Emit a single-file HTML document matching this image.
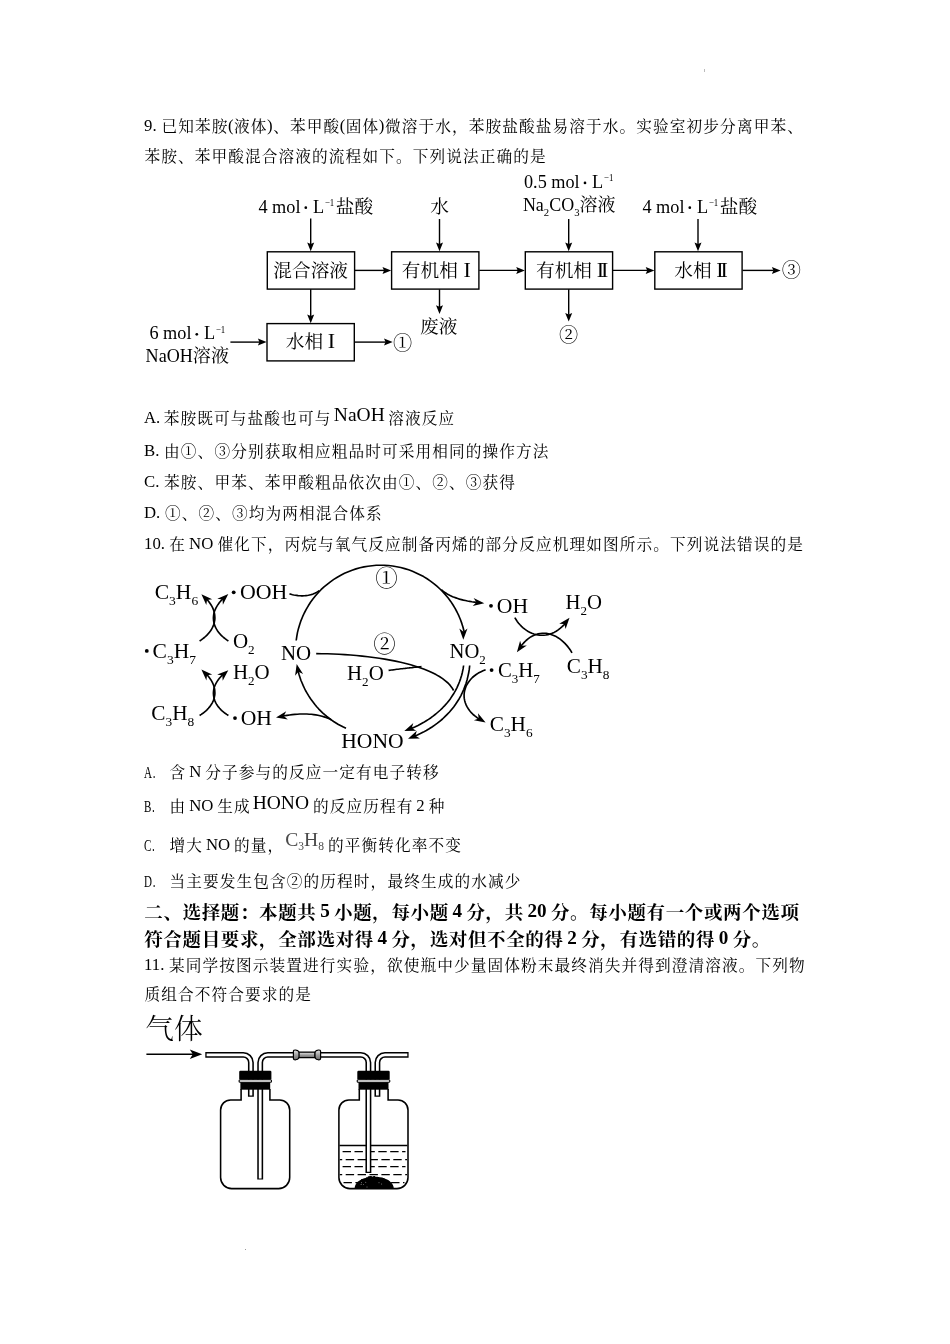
<!DOCTYPE html>
<html lang="zh-CN">
<head>
<meta charset="utf-8">
<title>Chemistry exam page</title>
<style>
html,body{margin:0;padding:0;background:#fff;}
body{will-change:transform;width:950px;height:1344px;position:relative;overflow:hidden;color:#000;
  font-family:"Liberation Serif","Noto Serif CJK SC",serif;font-size:16.76px;}
.ln{position:absolute;left:144px;white-space:nowrap;line-height:24px;height:24px;}
.b{font-weight:bold;font-size:19.15px;line-height:26px;height:26px;word-spacing:-.8px;}
.c{display:inline-block;font-size:15.66px;letter-spacing:1.1px;padding-left:.55px;margin-right:-.55px;transform:translateY(.5px);}
.b .c{font-size:18.55px;letter-spacing:.6px;padding-left:.3px;margin-right:-.3px;transform:translateY(1.6px);}
.hw{display:inline-block;width:25px;}
.hw i{display:inline-block;font-style:normal;transform:translateY(.5px) scaleX(.66);transform-origin:0 50%;letter-spacing:1px;}
.m{font-size:19.5px;position:relative;}
svg{position:absolute;overflow:visible;}
svg text{font-family:"Liberation Serif","Noto Serif CJK SC",serif;white-space:pre;}
#cycle polygon{fill:#000;stroke:none}
.dot{position:absolute;width:1px;height:1px;background:#bbb;}
</style>
</head>
<body>
<div class="dot" style="left:704px;top:69px;height:3px"></div>
<div class="dot" style="left:245px;top:1249px;background:#999"></div>

<div class="ln" id="l1" style="top:114px;letter-spacing:.035px">9. <span class="c">已知苯胺</span>(<span class="c">液体</span>)<span class="c">、苯甲酸</span>(<span class="c">固体</span>)<span class="c">微溶于水，苯胺盐酸盐易溶于水。实验室初步分离甲苯、</span></div>
<div class="ln" id="l2" style="top:144px"><span class="c">苯胺、苯甲酸混合溶液的流程如下。下列说法正确的是</span></div>

<svg id="flow" style="left:0;top:0" width="950" height="400" viewBox="0 0 950 400">
<g fill="none" stroke="#000" stroke-width="1.4">
<rect x="267.3" y="251.8" width="87.3" height="37.3"/>
<rect x="391.6" y="251.8" width="87.3" height="37.3"/>
<rect x="525.3" y="251.8" width="87.3" height="37.3"/>
<rect x="654.8" y="251.8" width="87.3" height="37.3"/>
<rect x="267" y="323.6" width="87.3" height="37.3"/>
</g>
<g fill="#000" stroke="#000" stroke-width="1.4">
<line x1="310.7" y1="218.4" x2="310.7" y2="244.5"/><polygon stroke="none" points="310.7,251.3 307.2,242.6 310.7,244.1 314.2,242.6"/>
<line x1="439.5" y1="219" x2="439.5" y2="244.5"/><polygon stroke="none" points="439.5,251.3 436,242.6 439.5,244.1 443,242.6"/>
<line x1="568.7" y1="219" x2="568.7" y2="244.5"/><polygon stroke="none" points="568.7,251.3 565.2,242.6 568.7,244.1 572.2,242.6"/>
<line x1="698" y1="219" x2="698" y2="244.5"/><polygon stroke="none" points="698,251.3 694.5,242.6 698,244.1 701.5,242.6"/>
<line x1="355" y1="270.4" x2="384.4" y2="270.4"/><polygon stroke="none" points="391.2,270.4 382.5,273.9 384,270.4 382.5,266.9"/>
<line x1="479.3" y1="270.4" x2="518.1" y2="270.4"/><polygon stroke="none" points="524.9,270.4 516.2,273.9 517.7,270.4 516.2,266.9"/>
<line x1="613" y1="270.4" x2="647.6" y2="270.4"/><polygon stroke="none" points="654.4,270.4 645.7,273.9 647.2,270.4 645.7,266.9"/>
<line x1="742.5" y1="270.4" x2="773.8" y2="270.4"/><polygon stroke="none" points="780.6,270.4 771.9,273.9 773.4,270.4 771.9,266.9"/>
<line x1="310.7" y1="289.3" x2="310.7" y2="316.4"/><polygon stroke="none" points="310.7,323.2 307.2,314.5 310.7,316 314.2,314.5"/>
<line x1="439.5" y1="289.3" x2="439.5" y2="307.2"/><polygon stroke="none" points="439.5,314 436,305.3 439.5,306.8 443,305.3"/>
<line x1="568.7" y1="289.3" x2="568.7" y2="314.8"/><polygon stroke="none" points="568.7,321.6 565.2,312.9 568.7,314.4 572.2,312.9"/>
<line x1="230.4" y1="342.1" x2="259.8" y2="342.1"/><polygon stroke="none" points="266.6,342.1 257.9,345.6 259.4,342.1 257.9,338.6"/>
<line x1="354.7" y1="342.1" x2="385.9" y2="342.1"/><polygon stroke="none" points="392.7,342.1 384,345.6 385.5,342.1 384,338.6"/>
</g>
<g font-size="18.5" fill="#000" stroke="none">
<text x="258.4" y="212.6" font-size="18.3" textLength="42.1" lengthAdjust="spacingAndGlyphs">4 mol</text><circle cx="305.8" cy="207.7" r="1.35"/><text x="312.9" y="212.6" font-size="18.3">L</text><text x="324.9" y="206" font-size="9.5" textLength="9.4" lengthAdjust="spacingAndGlyphs">−1</text><text x="335.8" y="212.7" font-size="18.7">盐酸</text>
<text x="642.4" y="212.6" font-size="18.3" textLength="42.1" lengthAdjust="spacingAndGlyphs">4 mol</text><circle cx="689.8" cy="207.7" r="1.35"/><text x="696.9" y="212.6" font-size="18.3">L</text><text x="708.9" y="206" font-size="9.5" textLength="9.4" lengthAdjust="spacingAndGlyphs">−1</text><text x="719.8" y="212.7" font-size="18.7">盐酸</text>
<text x="524" y="187.8" font-size="18.3" textLength="55.7" lengthAdjust="spacingAndGlyphs">0.5 mol</text><circle cx="585" cy="182.9" r="1.35"/><text x="592.1" y="187.8" font-size="18.3">L</text><text x="604.1" y="181.2" font-size="9.5" textLength="9.4" lengthAdjust="spacingAndGlyphs">−1</text>
<text x="149.4" y="339.2" font-size="18.3" textLength="42.1" lengthAdjust="spacingAndGlyphs">6 mol</text><circle cx="196.8" cy="334.3" r="1.35"/><text x="203.9" y="339.2" font-size="18.3">L</text><text x="215.9" y="332.6" font-size="9.5" textLength="9.4" lengthAdjust="spacingAndGlyphs">−1</text>
<text x="439.5" y="213" text-anchor="middle" font-size="18.7">水</text>
<text x="522.9" y="211" textLength="92.6" lengthAdjust="spacingAndGlyphs">Na<tspan font-size="11" dy="4.5">2</tspan><tspan dy="-4.5">CO</tspan><tspan font-size="11" dy="4.5">3</tspan><tspan dy="-4.5">溶液</tspan></text>
<text x="145.6" y="361.5" textLength="83.4" lengthAdjust="spacingAndGlyphs">NaOH溶液</text>
<g font-size="18.7" text-anchor="middle">
<text x="438.8" y="332.6">废液</text>
<text x="310.7" y="276.9">混合溶液</text>
<text x="429.8" y="276.9">有机相</text>
<text x="564" y="276.9">有机相</text>
<text x="693" y="276.9">水相</text>
<text x="304.4" y="348.4">水相</text>
<text x="402.6" y="349.9" font-size="19.2">①</text>
<text x="568.7" y="342.3" font-size="19.2">②</text>
<text x="791.3" y="277.1" font-size="19.2">③</text>
</g>
<g font-size="22" text-anchor="middle">
<text x="467.2" y="276.8">I</text>
<text x="331.5" y="348.3">I</text>
<text x="601" y="276.8" letter-spacing="-3">II</text>
<text x="720.5" y="276.8" letter-spacing="-3">II</text>
</g>
</g></svg>

<div class="ln" id="l3" style="top:405px;word-spacing:-1.2px">A. <span class="c">苯胺既可与盐酸也可与</span> <span class="m" style="top:-2px">NaOH</span> <span class="c">溶液反应</span></div>
<div class="ln" id="l4" style="top:439px">B. <span class="c">由①、③分别获取相应粗品时可采用相同的操作方法</span></div>
<div class="ln" id="l5" style="top:470px">C. <span class="c">苯胺、甲苯、苯甲酸粗品依次由①、②、③获得</span></div>
<div class="ln" id="l6" style="top:501px">D. <span class="c">①、②、③均为两相混合体系</span></div>
<div class="ln" id="l7" style="top:532px;word-spacing:-.5px">10. <span class="c">在</span> NO <span class="c">催化下，丙烷与氧气反应制备丙烯的部分反应机理如图所示。下列说法错误的是</span></div>

<svg id="cycle" style="left:0;top:0" width="950" height="780" viewBox="0 0 950 780">
<g fill="none" stroke="#000" stroke-width="1.65" stroke-linecap="butt" stroke-linejoin="round">
<path d="M296.2 640.5 L296.8 636.4 L297.5 632.4 L298.5 628.4 L299.7 624.4 L301 620.6 L302.6 616.7 L304.3 613 L306.2 609.4 L308.3 605.8 L310.5 602.3 L312.9 599 L315.5 595.8 L318.2 592.7 L321 589.7 L324 586.9 L327.2 584.3 L330.4 581.8 L333.8 579.4 L337.3 577.2 L340.8 575.2 L344.5 573.3 L348.3 571.7 L352.1 570.2 L356 568.9 L360 567.8 L364 566.9 L368 566.2 L372.1 565.7 L376.2 565.3 L380.3 565.2 L384.4 565.3 L388.5 565.5 L392.6 566 L396.7 566.7 L400.7 567.5 L404.7 568.6 L408.6 569.8 L412.5 571.3 L416.2 572.9 L419.9 574.7 L423.6 576.6 L427.1 578.8 L430.5 581.1 L433.8 583.6 L436.9 586.2 L440 589 L442.9 591.9 L445.6 594.9 L448.2 598.1 L450.7 601.4 L452.9 604.8 L455.1 608.4 L457 612 L458.8 615.7 L460.4 619.5 L461.8 623.4 L463 627.3 L464 631.3 L464.3 632.7"/><polygon points="463.3,639.8 459.3,628.6 463.4,631.8 467.5,628.6"/>
<path d="M346 728.3 L343.4 727.1 L340.9 725.8 L338.4 724.5 L336 723 L333.6 721.5 L331.3 719.9 L329.1 718.2 L326.8 716.5 L324.7 714.7 L322.6 712.8 L320.6 710.8 L318.6 708.8 L316.7 706.7 L314.9 704.5 L313.2 702.3 L311.5 700.1 L309.9 697.7 L308.4 695.4 L306.9 692.9 L305.5 690.5 L304.3 688 L303.1 685.4 L302 682.8 L300.9 680.2 L300 677.5 L299.1 674.8 L298.4 672.1 L298.1 671.1"/><polygon points="296.7,663.9 303.1,673.9 298.4,671.7 295.1,675.7"/>
<path d="M289.5 593.9 L291 594.3 L292.5 594.7 L293.9 595 L295.3 595.2 L296.7 595.4 L298.1 595.6 L299.5 595.7 L300.8 595.8 L302.1 595.8 L303.4 595.8 L304.7 595.7 L306 595.6 L307.2 595.5 L308.4 595.3 L309.6 595 L310.8 594.7 L311.9 594.4 L313.1 594 L314.2 593.5 L315.3 593 L316.3 592.5 L317.4 591.9 L318.4 591.3 L319.4 590.6"/>
<path d="M441.4 589.6 L442.4 590.5 L443.4 591.4 L444.5 592.2 L445.7 593 L446.9 593.8 L448.2 594.6 L449.6 595.3 L451.1 596 L452.6 596.7 L454.2 597.3 L455.9 597.9 L457.7 598.5 L459.5 599.1 L461.4 599.6 L463.4 600.1 L465.4 600.5 L467.5 601 L469.7 601.4 L471.9 601.8 L474.3 602.1 L476.7 602.4 L476.9 602.4"/><polygon points="484.3,603.2 472.7,606 476.4,602.3 473.6,597.9"/>
<path d="M331.6 719.9 L329.8 719 L327.9 718.3 L326 717.5 L324.1 716.9 L322.1 716.3 L320 715.8 L317.9 715.3 L315.8 714.9 L313.7 714.6 L311.4 714.3 L309.2 714.2 L306.9 714 L304.6 714 L302.2 714 L299.8 714 L297.3 714.2 L294.8 714.4 L292.2 714.6 L289.6 715 L287 715.4 L284.3 715.8 L283.2 716"/><polygon points="276,717.6 286.2,711.3 283.8,716 287.8,719.4"/>
<path d="M316.2 653.6 L321.8 653.7 L327.5 653.8 L333.2 654 L339 654.3 L344.8 654.6 L350.6 655 L356.4 655.5 L362.2 656.1 L367.9 656.7 L373.6 657.5 L379.2 658.3 L384.8 659.1 L390.2 660.1 L395.5 661.1 L400.7 662.3 L405.8 663.5 L410.7 664.8 L415.4 666.2 L420 667.7 L424.3 669.2 L428.5 670.9 L432.4 672.7 L436 674.6 L439.4 676.5 L442.6 678.6 L445.4 680.8 L448 683 L450.2 685.4 L452.1 687.9 L453.6 690.5"/>
<path d="M388.6 670.4 L390 670.2 L391.3 670 L392.7 669.9 L394.1 669.7 L395.4 669.5 L396.8 669.3 L398.2 669.2 L399.5 669 L400.9 668.8 L402.3 668.7 L403.7 668.5 L405 668.4 L406.4 668.2 L407.8 668 L409.1 667.9 L410.5 667.7 L411.9 667.6 L413.3 667.4 L414.6 667.3 L416 667.2 L417.4 667 L418.8 666.9 L420.1 666.7 L421.5 666.6"/>
<path d="M463.6 665.5 L463.1 668.9 L462.4 672.2 L461.6 675.5 L460.6 678.6 L459.5 681.7 L458.3 684.7 L457 687.6 L455.6 690.4 L454 693.2 L452.3 695.8 L450.6 698.4 L448.7 700.9 L446.8 703.3 L444.7 705.6 L442.6 707.8 L440.4 710 L438.1 712 L435.8 714 L433.4 715.9 L431 717.7 L428.5 719.4 L425.9 721 L423.3 722.6 L420.7 724 L418 725.4 L415.3 726.7 L412.6 727.9 L411.2 728.4"/><polygon points="404.3,731 413.3,723.1 411.8,728.1 416.2,730.8"/>
<path d="M469.7 665.5 L469.3 669.2 L468.7 672.8 L467.9 676.4 L467.1 679.8 L466.1 683.2 L464.9 686.4 L463.7 689.6 L462.3 692.7 L460.8 695.8 L459.2 698.7 L457.4 701.5 L455.6 704.3 L453.7 706.9 L451.6 709.5 L449.5 712 L447.2 714.4 L444.9 716.7 L442.5 719 L440 721.1 L437.4 723.2 L434.7 725.1 L432 727 L429.2 728.8 L426.3 730.5 L423.4 732.1 L420.4 733.6 L417.4 735 L414.9 736.1"/><polygon points="408,738.8 416.8,730.8 415.4,735.8 419.9,738.4"/>
<path d="M485.6 669.8 L483 670.8 L480.6 671.9 L478.3 673.1 L476.2 674.5 L474.2 676 L472.4 677.5 L470.8 679.2 L469.4 680.9 L468.1 682.7 L467 684.5 L466 686.5 L465.3 688.4 L464.7 690.4 L464.3 692.5 L464.1 694.5 L464.1 696.6 L464.3 698.7 L464.7 700.7 L465.3 702.8 L466.1 704.9 L467.1 706.9 L468.3 708.8 L469.7 710.8 L471.3 712.7 L473.1 714.5 L475.2 716.2 L477.4 717.9 L479.1 719"/><polygon points="485.6,722.4 473.9,720.3 478.7,718.4 478,713.2"/>
<path d="M199.6 641 L201.3 639.9 L202.9 638.7 L204.4 637.5 L205.9 636.2 L207.2 634.9 L208.4 633.5 L209.6 632.1 L210.6 630.7 L211.6 629.2 L212.4 627.7 L213.1 626.2 L213.7 624.6 L214.2 623 L214.5 621.4 L214.8 619.8 L214.9 618.1 L214.8 616.4 L214.7 614.8 L214.4 613.1 L214 611.4 L213.4 609.6 L212.7 607.9 L211.8 606.2 L210.8 604.5 L209.6 602.7 L208.3 601 L206.8 599.3 L206.8 599.3"/><polygon points="201.4,594.2 212.2,599.3 207,599.9 206.3,605.1"/>
<path d="M228.4 641 L226.7 639.9 L225.1 638.7 L223.6 637.5 L222.1 636.2 L220.8 634.9 L219.6 633.5 L218.4 632.1 L217.4 630.7 L216.5 629.2 L215.7 627.7 L215 626.2 L214.4 624.6 L214 623 L213.7 621.4 L213.5 619.8 L213.4 618.1 L213.5 616.4 L213.7 614.7 L214 613 L214.5 611.3 L215.2 609.6 L216 607.8 L217 606.1 L218.1 604.4 L219.4 602.6 L220.8 600.9 L222.4 599.2 L222.7 598.9"/><polygon points="228.3,594 222.9,604.7 222.5,599.5 217.3,598.7"/>
<path d="M199.6 715.5 L201.3 714.4 L202.9 713.3 L204.4 712.1 L205.9 710.9 L207.2 709.6 L208.4 708.3 L209.6 706.9 L210.6 705.5 L211.6 704.1 L212.4 702.6 L213.1 701.1 L213.7 699.5 L214.2 698 L214.5 696.4 L214.8 694.8 L214.9 693.1 L214.8 691.5 L214.7 689.8 L214.4 688.1 L214 686.5 L213.4 684.8 L212.7 683.1 L211.8 681.4 L210.8 679.7 L209.6 678 L208.3 676.3 L206.8 674.6"/><polygon points="201.4,669.6 212.2,674.6 207,675.3 206.4,680.4"/>
<path d="M228.4 715.5 L226.7 714.4 L225.1 713.3 L223.6 712.1 L222.1 710.9 L220.8 709.6 L219.6 708.3 L218.4 706.9 L217.4 705.5 L216.5 704.1 L215.7 702.6 L215 701.1 L214.4 699.6 L214 698 L213.7 696.4 L213.5 694.8 L213.4 693.2 L213.5 691.6 L213.7 689.9 L214 688.3 L214.5 686.6 L215.2 685 L216 683.3 L217 681.6 L218.1 680 L219.4 678.3 L220.8 676.7 L222.4 675 L222.6 674.9"/><polygon points="228.3,670.2 222.7,680.7 222.3,675.5 217.2,674.6"/>
<path d="M514.8 617.6 L516 619.5 L517.2 621.4 L518.6 623.2 L520 624.8 L521.5 626.4 L523.1 627.8 L524.8 629.2 L526.5 630.4 L528.2 631.5 L530.1 632.4 L531.9 633.3 L533.9 634 L535.8 634.5 L537.8 634.9 L539.8 635.2 L541.8 635.3 L543.9 635.2 L545.9 635 L548 634.6 L550 634 L552.1 633.3 L554.1 632.4 L556.2 631.2 L558.2 629.9 L560.1 628.4 L562.1 626.7 L564 624.8 L565 623.7"/><polygon points="569.5,617.8 565.6,629.1 564.4,624 559.2,623.8"/>
<path d="M572 652.9 L570.8 650.8 L569.4 648.8 L568 646.9 L566.5 645.1 L564.9 643.4 L563.3 641.8 L561.6 640.3 L559.8 638.9 L558 637.7 L556.2 636.6 L554.3 635.7 L552.3 634.9 L550.4 634.2 L548.4 633.7 L546.4 633.4 L544.3 633.2 L542.3 633.3 L540.2 633.5 L538.2 633.9 L536.1 634.5 L534.1 635.2 L532 636.2 L530 637.4 L528 638.9 L526.1 640.5 L524.2 642.4 L522.3 644.5 L521 646.1"/><polygon points="516.9,652.3 520.1,640.8 521.6,645.8 526.8,645.6"/>
</g>
<g fill="#000" stroke="none">
<circle cx="233.7" cy="592.3" r="1.9"/>
<circle cx="146.8" cy="650.9" r="1.9"/>
<circle cx="235" cy="718.1" r="1.9"/>
<circle cx="491" cy="605.8" r="1.9"/>
<circle cx="491.6" cy="670.1" r="1.9"/>
<text x="154.7" y="599.2" font-size="21.5" textLength="43.5" lengthAdjust="spacingAndGlyphs"><tspan dy="0">C</tspan><tspan font-size="13.5" dy="6">3</tspan><tspan dy="-6">H</tspan><tspan font-size="13.5" dy="6">6</tspan></text>
<text x="240" y="599" font-size="21.5" textLength="47.4" lengthAdjust="spacingAndGlyphs"><tspan dy="0">OOH</tspan></text>
<text x="152.6" y="657.6" font-size="21.5" textLength="43.4" lengthAdjust="spacingAndGlyphs"><tspan dy="0">C</tspan><tspan font-size="13.5" dy="6">3</tspan><tspan dy="-6">H</tspan><tspan font-size="13.5" dy="6">7</tspan></text>
<text x="232.9" y="647.6" font-size="21.5" textLength="21.8" lengthAdjust="spacingAndGlyphs"><tspan dy="0">O</tspan><tspan font-size="13.5" dy="6">2</tspan></text>
<text x="232.9" y="678.7" font-size="21.5" textLength="36.8" lengthAdjust="spacingAndGlyphs"><tspan dy="0">H</tspan><tspan font-size="13.5" dy="6">2</tspan><tspan dy="-6">O</tspan></text>
<text x="281" y="660" font-size="21.5" textLength="30.2" lengthAdjust="spacingAndGlyphs"><tspan dy="0">NO</tspan></text>
<text x="151.3" y="719.5" font-size="21.5" textLength="42.9" lengthAdjust="spacingAndGlyphs"><tspan dy="0">C</tspan><tspan font-size="13.5" dy="6">3</tspan><tspan dy="-6">H</tspan><tspan font-size="13.5" dy="6">8</tspan></text>
<text x="240.7" y="724.7" font-size="21.5" textLength="31.3" lengthAdjust="spacingAndGlyphs"><tspan dy="0">OH</tspan></text>
<text x="347" y="680" font-size="21.5" textLength="36.7" lengthAdjust="spacingAndGlyphs"><tspan dy="0">H</tspan><tspan font-size="13.5" dy="6">2</tspan><tspan dy="-6">O</tspan></text>
<text x="341.2" y="748.4" font-size="21.5" textLength="62.4" lengthAdjust="spacingAndGlyphs"><tspan dy="0">HONO</tspan></text>
<text x="449.5" y="658" font-size="21.5" textLength="36.3" lengthAdjust="spacingAndGlyphs"><tspan dy="0">NO</tspan><tspan font-size="13.5" dy="6">2</tspan></text>
<text x="496.8" y="612.9" font-size="21.5" textLength="31.3" lengthAdjust="spacingAndGlyphs"><tspan dy="0">OH</tspan></text>
<text x="565.5" y="609" font-size="21.5" textLength="36.5" lengthAdjust="spacingAndGlyphs"><tspan dy="0">H</tspan><tspan font-size="13.5" dy="6">2</tspan><tspan dy="-6">O</tspan></text>
<text x="497.9" y="677" font-size="21.5" textLength="41.8" lengthAdjust="spacingAndGlyphs"><tspan dy="0">C</tspan><tspan font-size="13.5" dy="6">3</tspan><tspan dy="-6">H</tspan><tspan font-size="13.5" dy="6">7</tspan></text>
<text x="566.8" y="672.6" font-size="21.5" textLength="42.7" lengthAdjust="spacingAndGlyphs"><tspan dy="0">C</tspan><tspan font-size="13.5" dy="6">3</tspan><tspan dy="-6">H</tspan><tspan font-size="13.5" dy="6">8</tspan></text>
<text x="489.7" y="731.3" font-size="21.5" textLength="42.9" lengthAdjust="spacingAndGlyphs"><tspan dy="0">C</tspan><tspan font-size="13.5" dy="6">3</tspan><tspan dy="-6">H</tspan><tspan font-size="13.5" dy="6">6</tspan></text>
<text x="386.6" y="586.4" font-size="22.5" text-anchor="middle">①</text>
<text x="384.6" y="651.8" font-size="22.5" text-anchor="middle">②</text>
</g></svg>

<div class="ln" id="l8" style="top:760px;word-spacing:-.8px"><span class="hw"><i>A.</i></span><span class="c">含</span> N <span class="c">分子参与的反应一定有电子转移</span></div>
<div class="ln" id="l9" style="top:793px;word-spacing:-.8px"><span class="hw"><i>B.</i></span><span class="c">由</span> NO <span class="c">生成</span><span class="m" style="top:-2.5px;margin-left:2.4px">HONO</span> <span class="c">的反应历程有</span> 2 <span class="c">种</span></div>
<div class="ln" id="l10" style="top:832px;word-spacing:-.8px"><span class="hw"><i>C.</i></span><span class="c">增大</span> NO <span class="c">的量，</span><span class="m" style="top:-4px;color:#4a4a4a;font-size:19.6px;margin-left:1.5px">C<sub style="font-size:11.5px;vertical-align:-4px">3</sub>H<sub style="font-size:11.5px;vertical-align:-4px">8</sub></span> <span class="c">的平衡转化率不变</span></div>
<div class="ln" id="l11" style="top:869px;word-spacing:-.8px"><span class="hw"><i>D.</i></span><span class="c">当主要发生包含②的历程时，最终生成的水减少</span></div>

<div class="ln b" id="l12" style="top:898px"><span class="c">二、选择题：本题共</span> 5 <span class="c">小题，每小题</span> 4 <span class="c">分，共</span> 20 <span class="c">分。每小题有一个或两个选项</span></div>
<div class="ln b" id="l13" style="top:925px"><span class="c">符合题目要求，全部选对得</span> 4 <span class="c">分，选对但不全的得</span> 2 <span class="c">分，有选错的得</span> 0 <span class="c">分。</span></div>
<div class="ln" id="l14" style="top:953px">11. <span class="c">某同学按图示装置进行实验，欲使瓶中少量固体粉末最终消失并得到澄清溶液。下列物</span></div>
<div class="ln" id="l15" style="top:982px"><span class="c">质组合不符合要求的是</span></div>

<svg id="app" style="left:0;top:1000px" width="950" height="210" viewBox="0 1000 950 210">
<defs><linearGradient id="gr" x1="0" y1="0" x2="0" y2="1"><stop offset="0" stop-color="#e6e6e6"/><stop offset=".5" stop-color="#a0a0a0"/><stop offset="1" stop-color="#6a6a6a"/></linearGradient></defs>
<text x="145.2" y="1039.3" font-size="28.3" font-weight="300" textLength="57.5" lengthAdjust="spacingAndGlyphs">气体</text>
<path d="M146.4 1054.3H194" stroke="#000" stroke-width="1.5" fill="none"/>
<polygon points="202.2,1054.3 189.8,1049.6 192.8,1054.3 189.8,1059" fill="#000"/>
<path d="M241.1 1089V1099.9H230.6A10.0 10.0 0 0 0 220.6 1109.9V1177.6A11.0 11.0 0 0 0 231.6 1188.6H278.7A11.0 11.0 0 0 0 289.7 1177.6V1109.9A10.0 10.0 0 0 0 279.7 1099.9H269.9V1089" fill="#fff" stroke="#000" stroke-width="1.55"/>
<path d="M359.3 1089V1099.9H348.9A10.0 10.0 0 0 0 338.9 1109.9V1177.6A11.0 11.0 0 0 0 349.9 1188.6H397A11.0 11.0 0 0 0 408 1177.6V1109.9A10.0 10.0 0 0 0 398 1099.9H388.1V1089" fill="#fff" stroke="#000" stroke-width="1.55"/>
<path d="M339.5 1145.4H407.4" stroke="#000" stroke-width="1.5"/>
<path d="M342.6 1151.5H405.5" stroke="#000" stroke-width="1.25" stroke-dasharray="8.4 3.5" stroke-dashoffset="0"/>
<path d="M339.8 1159.5H407" stroke="#000" stroke-width="1.25" stroke-dasharray="8.4 3.5" stroke-dashoffset="6"/>
<path d="M342.6 1166.5H405.5" stroke="#000" stroke-width="1.25" stroke-dasharray="8.4 3.5" stroke-dashoffset="0"/>
<path d="M339.8 1174.5H407" stroke="#000" stroke-width="1.25" stroke-dasharray="8.4 3.5" stroke-dashoffset="6"/>
<path d="M343.5 1182.5H404.5" stroke="#000" stroke-width="1.25" stroke-dasharray="8.4 3.5" stroke-dashoffset="0"/>
<path d="M354.6 1188.2C355 1183 359 1179.6 365 1178.2C371 1176.4 379 1176.4 384.5 1178.4C390 1180 393.6 1184 393.8 1188.2Z" fill="#000"/>
<circle cx="364.5" cy="1179.5" r="1" fill="#000"/>
<circle cx="358.4" cy="1185" r="1.3" fill="#000"/>
<circle cx="383.5" cy="1179.5" r="1" fill="#000"/>
<circle cx="362.2" cy="1180.7" r="1.4" fill="#000"/>
<circle cx="385.8" cy="1181.4" r="1" fill="#000"/>
<circle cx="367.2" cy="1178.7" r="1.3" fill="#000"/>
<circle cx="387.7" cy="1182.5" r="1.2" fill="#000"/>
<circle cx="374.2" cy="1176.8" r="0.9" fill="#000"/>
<circle cx="389.6" cy="1184.1" r="1.1" fill="#000"/>
<circle cx="388.7" cy="1183.8" r="1.3" fill="#000"/>
<circle cx="374.3" cy="1177" r="1.1" fill="#000"/>
<circle cx="361.8" cy="1181.9" r="0.9" fill="#000"/>
<circle cx="357.7" cy="1184.7" r="1.2" fill="#000"/>
<circle cx="373" cy="1177.6" r="1" fill="#000"/>
<circle cx="370.9" cy="1177.3" r="1" fill="#000"/>
<circle cx="368.8" cy="1177.4" r="1.2" fill="#000"/>
<circle cx="388.6" cy="1182.3" r="1" fill="#000"/>
<circle cx="383.5" cy="1179" r="1.1" fill="#000"/>
<circle cx="362.4" cy="1180.3" r="1.2" fill="#000"/>
<circle cx="388.3" cy="1183.1" r="1.4" fill="#000"/>
<circle cx="356.7" cy="1186.8" r="1.3" fill="#000"/>
<circle cx="370.8" cy="1177.3" r="1.3" fill="#000"/>
<circle cx="366.6" cy="1178.5" r="1" fill="#000"/>
<circle cx="369.7" cy="1177.1" r="0.9" fill="#000"/>
<circle cx="357.6" cy="1185.6" r="1.1" fill="#000"/>
<circle cx="366.5" cy="1179.4" r="1.1" fill="#000"/>
<circle cx="365.8" cy="1182.3" r="0.45" fill="#ddd"/>
<circle cx="361.5" cy="1182.8" r="0.45" fill="#ddd"/>
<circle cx="379" cy="1182.7" r="0.45" fill="#ddd"/>
<circle cx="361.1" cy="1184.5" r="0.45" fill="#ddd"/>
<circle cx="367" cy="1187" r="0.45" fill="#ddd"/>
<circle cx="363.4" cy="1184.6" r="0.45" fill="#ddd"/>
<circle cx="381.7" cy="1184" r="0.45" fill="#ddd"/>
<path d="M205.3 1054.9H243.3A7.6 7.6 0 0 1 250.9 1062.5V1096.8" stroke="#000" stroke-width="5.9" fill="none"/><path d="M206.6 1054.9H243.3A7.6 7.6 0 0 1 250.9 1062.5V1095.6" stroke="#fff" stroke-width="2.8" fill="none"/>
<path d="M260.2 1179.6V1062.5A7.6 7.6 0 0 1 267.8 1054.9H360.8A7.6 7.6 0 0 1 368.4 1062.5V1173" stroke="#000" stroke-width="5.9" fill="none"/><path d="M260.2 1178.4V1062.5A7.6 7.6 0 0 1 267.8 1054.9H360.8A7.6 7.6 0 0 1 368.4 1062.5V1171.8" stroke="#fff" stroke-width="2.8" fill="none"/>
<path d="M377.4 1096.8V1062.5A7.6 7.6 0 0 1 385 1054.9H408.6" stroke="#000" stroke-width="5.9" fill="none"/><path d="M377.4 1095.6V1062.5A7.6 7.6 0 0 1 385 1054.9H407.3" stroke="#fff" stroke-width="2.8" fill="none"/>
<g stroke="#000" stroke-width="1.2" fill="url(#gr)" stroke-linejoin="round">
<rect x="298.6" y="1052.2" width="16.4" height="5.4"/>
<path d="M293.4 1051.6Q293.4 1049.8 295.6 1050L297.6 1050.6Q299 1051.4 299 1053V1056.8Q299 1058.4 297.6 1059.2L295.6 1059.8Q293.4 1060 293.4 1058.2Z"/>
<path d="M320.6 1051.6Q320.6 1049.8 318.4 1050L316.4 1050.6Q315 1051.4 315 1053V1056.8Q315 1058.4 316.4 1059.2L318.4 1059.8Q320.6 1060 320.6 1058.2Z"/>
</g>
<rect x="239.2" y="1070.8" width="32.2" height="9" rx="1.2" fill="#000"/><rect x="240.4" y="1082" width="29.8" height="7.7" fill="#000"/><rect x="239" y="1079.7" width="32.6" height="2.6" rx="1.3" fill="#fff" stroke="#000" stroke-width="1.1"/>
<rect x="357.3" y="1070.8" width="32.4" height="9" rx="1.2" fill="#000"/><rect x="358.5" y="1082" width="30" height="7.7" fill="#000"/><rect x="357.1" y="1079.7" width="32.8" height="2.6" rx="1.3" fill="#fff" stroke="#000" stroke-width="1.1"/>
</svg>

</body>
</html>
